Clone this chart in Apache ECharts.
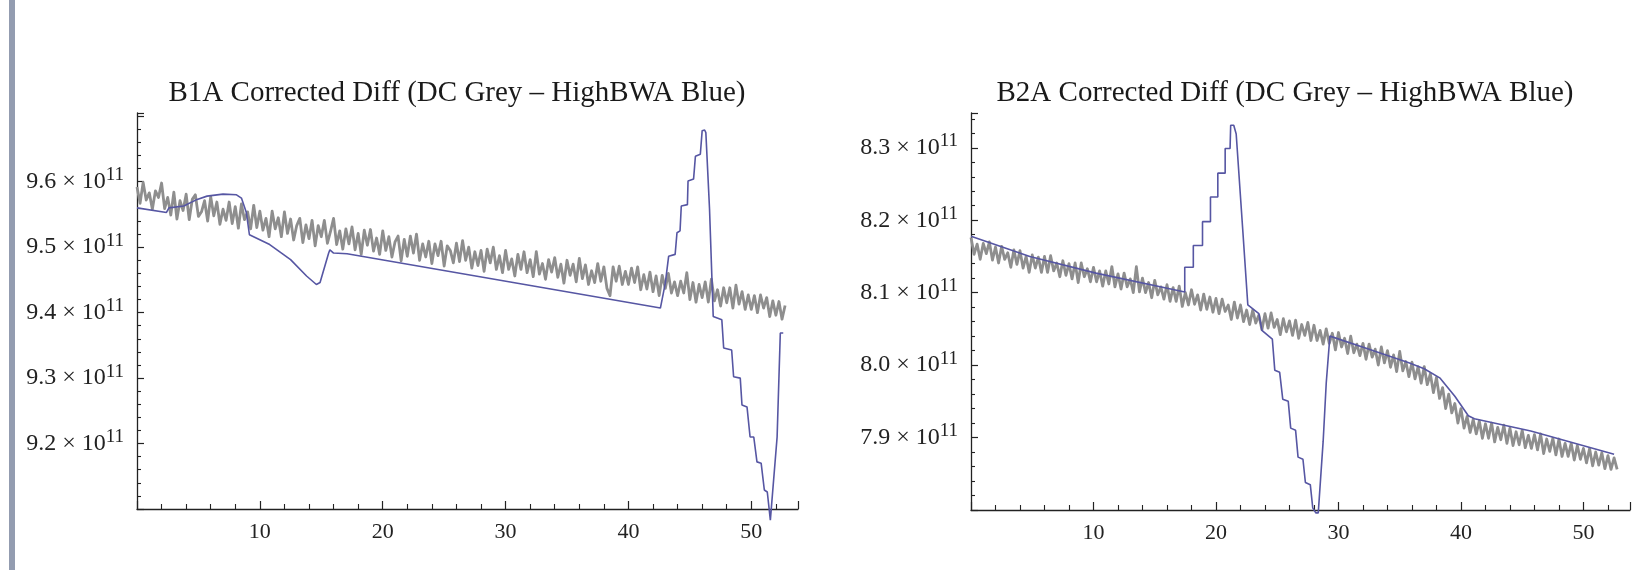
<!DOCTYPE html>
<html><head><meta charset="utf-8">
<script src="https://cdn.jsdelivr.net/npm/echarts@6/dist/echarts.min.js"></script>
<style>html,body{margin:0;padding:0;background:#fff}#c{width:1633px;height:570px}</style>
</head><body><div id="c"></div>
<script>
// Values in units of 10^11
const xStep = 0.25; // grey samples every 0.25 on x
const titleB1A = 'B1A Corrected Diff (DC Grey \u2013 HighBWA Blue)';
const titleB2A = 'B2A Corrected Diff (DC Grey \u2013 HighBWA Blue)';
const yTicksB1A = ['9.2','9.3','9.4','9.5','9.6'];
const yTicksB2A = ['7.9','8.0','8.1','8.2','8.3'];
const xTickLabels = [10,20,30,40,50];

const greyB1A = [
9.592,9.567,9.599,9.572,9.583,9.558,9.586,9.576,
9.598,9.559,9.576,9.549,9.584,9.543,9.571,9.556,
9.581,9.542,9.573,9.580,9.547,9.554,9.571,9.540,
9.577,9.548,9.569,9.535,9.558,9.541,9.569,9.536,
9.562,9.529,9.566,9.542,9.554,9.528,9.564,9.530,
9.555,9.526,9.544,9.516,9.555,9.528,9.545,9.516,
9.554,9.521,9.543,9.511,9.533,9.544,9.507,9.534,
9.513,9.541,9.502,9.533,9.516,9.541,9.506,9.524,
9.544,9.504,9.525,9.497,9.528,9.505,9.531,9.496,
9.521,9.489,9.526,9.503,9.527,9.494,9.514,9.489,
9.525,9.495,9.516,9.485,9.508,9.517,9.479,9.512,
9.486,9.517,9.491,9.520,9.480,9.505,9.485,9.509,
9.475,9.505,9.487,9.509,9.471,9.502,9.495,9.476,
9.506,9.478,9.510,9.480,9.500,9.468,9.493,9.472,
9.495,9.463,9.497,9.476,9.500,9.466,9.487,9.461,
9.495,9.466,9.482,9.456,9.489,9.466,9.493,9.461,
9.481,9.455,9.493,9.459,9.475,9.451,9.481,9.462,
9.484,9.454,9.474,9.445,9.480,9.457,9.474,9.447,
9.483,9.452,9.473,9.443,9.464,9.446,9.475,9.448,
9.470,9.437,9.426,9.470,9.448,9.471,9.443,9.463,
9.443,9.468,9.446,9.470,9.435,9.458,9.436,9.462,
9.432,9.456,9.426,9.457,9.437,9.460,9.430,9.447,
9.426,9.448,9.430,9.461,9.420,9.446,9.416,9.443,
9.423,9.447,9.416,9.451,9.418,9.435,9.410,9.438,
9.415,9.438,9.407,9.442,9.413,9.432,9.405,9.427,
9.405,9.426,9.400,9.427,9.407,9.423,9.394,9.418,
9.396,9.417,9.390,9.411
];

const blueB1A = [
[0,9.560],[2.4,9.553],[2.6,9.560],[3.8,9.563],[4.9,9.573],[5.7,9.578],[7.0,9.581],[8.1,9.580],
[8.5,9.575],[8.9,9.553],[9.15,9.519],[10.8,9.504],[12.5,9.481],[13.8,9.456],[14.6,9.443],[14.9,9.446],
[15.6,9.491],[15.7,9.496],[16.0,9.491],[17.1,9.490],[42.6,9.407],
[43.0,9.445],[43.27,9.486],[43.8,9.489],[43.95,9.522],[44.2,9.525],[44.3,9.563],[44.8,9.565],
[44.85,9.601],[45.3,9.604],[45.45,9.639],[45.85,9.642],[46.0,9.678],[46.2,9.679],[46.3,9.675],
[46.6,9.558],[46.9,9.394],[47.6,9.389],[47.75,9.346],[48.4,9.343],[48.56,9.302],[49.1,9.300],
[49.24,9.259],[49.65,9.256],[49.9,9.210],[50.2,9.210],[50.46,9.172],[50.8,9.170],[51.06,9.129],
[51.3,9.126],[51.55,9.083],[51.7,9.083],[52.1,9.210],[52.36,9.369],[52.6,9.369]
];

const greyB2A = [
8.176,8.153,8.167,8.146,8.168,8.154,8.170,8.145,
8.163,8.141,8.164,8.146,8.155,8.135,8.159,8.139,
8.158,8.134,8.150,8.128,8.152,8.134,8.149,8.128,
8.150,8.128,8.151,8.130,8.141,8.122,8.144,8.124,
8.140,8.119,8.141,8.114,8.141,8.122,8.133,8.115,
8.135,8.115,8.130,8.109,8.130,8.112,8.136,8.108,
8.126,8.105,8.127,8.108,8.119,8.100,8.136,8.101,
8.120,8.100,8.114,8.093,8.117,8.097,8.108,8.091,
8.111,8.088,8.107,8.088,8.109,8.081,8.100,8.083,
8.104,8.084,8.097,8.076,8.098,8.077,8.094,8.073,
8.092,8.071,8.091,8.074,8.083,8.063,8.087,8.065,
8.083,8.060,8.076,8.056,8.076,8.058,8.069,8.049,
8.071,8.051,8.072,8.052,8.063,8.042,8.064,8.046,
8.061,8.041,8.062,8.037,8.056,8.041,8.059,8.034,
8.055,8.034,8.048,8.029,8.050,8.030,8.044,8.021,
8.045,8.025,8.037,8.016,8.040,8.017,8.029,8.013,
8.030,8.008,8.029,8.011,8.022,8.000,8.025,8.003,
8.020,7.997,8.014,7.991,8.019,7.992,8.005,7.984,
8.004,7.981,7.998,7.975,7.998,7.973,7.988,7.962,
7.983,7.954,7.969,7.940,7.960,7.934,7.947,7.920,
7.940,7.913,7.929,7.907,7.925,7.905,7.923,7.899,
7.919,7.899,7.920,7.894,7.914,7.897,7.917,7.892,
7.913,7.889,7.908,7.890,7.910,7.886,7.903,7.885,
7.904,7.883,7.905,7.878,7.898,7.881,7.899,7.876,
7.898,7.874,7.892,7.874,7.892,7.869,7.889,7.870,
7.885,7.865,7.885,7.861,7.880,7.862,7.879,7.857,
7.875,7.856,7.872,7.856
];

const blueB2A = [
[0,8.178],[4.8,8.150],[10.2,8.127],[17.45,8.101],[17.45,8.135],[18.15,8.135],[18.15,8.165],
[18.9,8.165],[18.9,8.198],[19.55,8.198],[19.55,8.232],[20.15,8.232],[20.15,8.265],[20.75,8.265],
[20.75,8.299],[21.15,8.299],[21.2,8.331],[21.45,8.331],[21.65,8.319],[22.2,8.183],[22.6,8.083],
[23.5,8.071],[23.75,8.048],[24.6,8.036],[24.8,7.993],[25.2,7.990],[25.45,7.953],[25.9,7.950],
[26.1,7.913],[26.5,7.910],[26.7,7.873],[27.1,7.870],[27.3,7.838],[27.7,7.835],[27.9,7.803],
[28.15,7.796],[28.35,7.796],[28.75,7.895],[29.0,7.975],[29.3,8.040],[32.5,8.022],[35.8,8.003],
[37.0,7.995],[38.3,7.982],[39.5,7.957],[40.6,7.930],[41.1,7.926],[45.7,7.909],[52.5,7.877]
];

const GREY = '#8e8e8e', BLUE = '#5656a3', AXIS = '#222';
const SERIF = '"Liberation Serif","DejaVu Serif",serif';

function greyPairs(arr){ return arr.map((v,i)=>[i*xStep, v]); }

function yAxisFor(idx, min, max, ticks){
  return {
    type:'value', gridIndex: idx, min:min, max:max, interval:0.1,
    axisLine:{show:true, lineStyle:{color:AXIS, width:1.3}},
    axisTick:{show:true, inside:true, length:7, lineStyle:{color:AXIS, width:1.2}},
    minorTick:{show:true, splitNumber:5, length:4, lineStyle:{color:AXIS, width:1.1}},
    splitLine:{show:false},
    axisLabel:{
      margin:13,
      formatter: v => ticks.includes(v.toFixed(1)) && Math.abs(v*10-Math.round(v*10))<1e-6 ? '{m|'+v.toFixed(1)+' \u00d7 10}{s|11}' : '',
      rich:{
        m:{fontFamily:SERIF, fontSize:24, color:AXIS},
        s:{fontFamily:SERIF, fontSize:19, color:AXIS, padding:[0,0,13,0]}
      }
    }
  };
}
function xAxisFor(idx){
  return {
    type:'value', gridIndex: idx, min:0, max:53.8, interval:10,
    axisLine:{show:true, onZero:false, lineStyle:{color:AXIS, width:1.3}},
    axisTick:{show:true, inside:true, length:8, lineStyle:{color:AXIS, width:1.2}},
    minorTick:{show:true, splitNumber:5, length:5, lineStyle:{color:AXIS, width:1.1}},
    splitLine:{show:false},
    axisLabel:{
      margin:12, fontFamily:SERIF, fontSize:22, color:AXIS,
      formatter: v => (Math.abs(v-Math.round(v))<1e-6 && xTickLabels.includes(Math.round(v))) ? String(Math.round(v)) : ''
    }
  };
}

const chart = echarts.init(document.getElementById('c'), null, {renderer:'canvas'});
chart.setOption({
  animation:false,
  backgroundColor:'#fff',
  graphic:[
    {type:'rect', shape:{x:9, y:0, width:6, height:570}, style:{fill:'#939cb0'}},
    {type:'text', x:457, y:93, style:{text:titleB1A, font:'29px '+SERIF, fill:'#1a1a1a', textAlign:'center', textVerticalAlign:'middle'}},
    {type:'text', x:1285, y:93, style:{text:titleB2A, font:'29px '+SERIF, fill:'#1a1a1a', textAlign:'center', textVerticalAlign:'middle'}}
  ],
  grid:[
    {left:137, top:113, width:661, height:396},
    {left:971, top:113, width:662, height:397}
  ],
  xAxis:[xAxisFor(0), xAxisFor(1)],
  yAxis:[yAxisFor(0, 9.1, 9.705, yTicksB1A), yAxisFor(1, 7.8, 8.348, yTicksB2A)],
  series:[
    {type:'line', xAxisIndex:0, yAxisIndex:0, data:greyPairs(greyB1A), symbol:'none', lineStyle:{color:GREY, width:2.8, join:'round'}, z:2},
    {type:'line', xAxisIndex:0, yAxisIndex:0, data:blueB1A, symbol:'none', clip:false, lineStyle:{color:BLUE, width:1.6}, z:3},
    {type:'line', xAxisIndex:1, yAxisIndex:1, data:greyPairs(greyB2A), symbol:'none', lineStyle:{color:GREY, width:2.8, join:'round'}, z:2},
    {type:'line', xAxisIndex:1, yAxisIndex:1, data:blueB2A, symbol:'none', clip:false, lineStyle:{color:BLUE, width:1.6}, z:3}
  ]
});
</script>
</body></html>
